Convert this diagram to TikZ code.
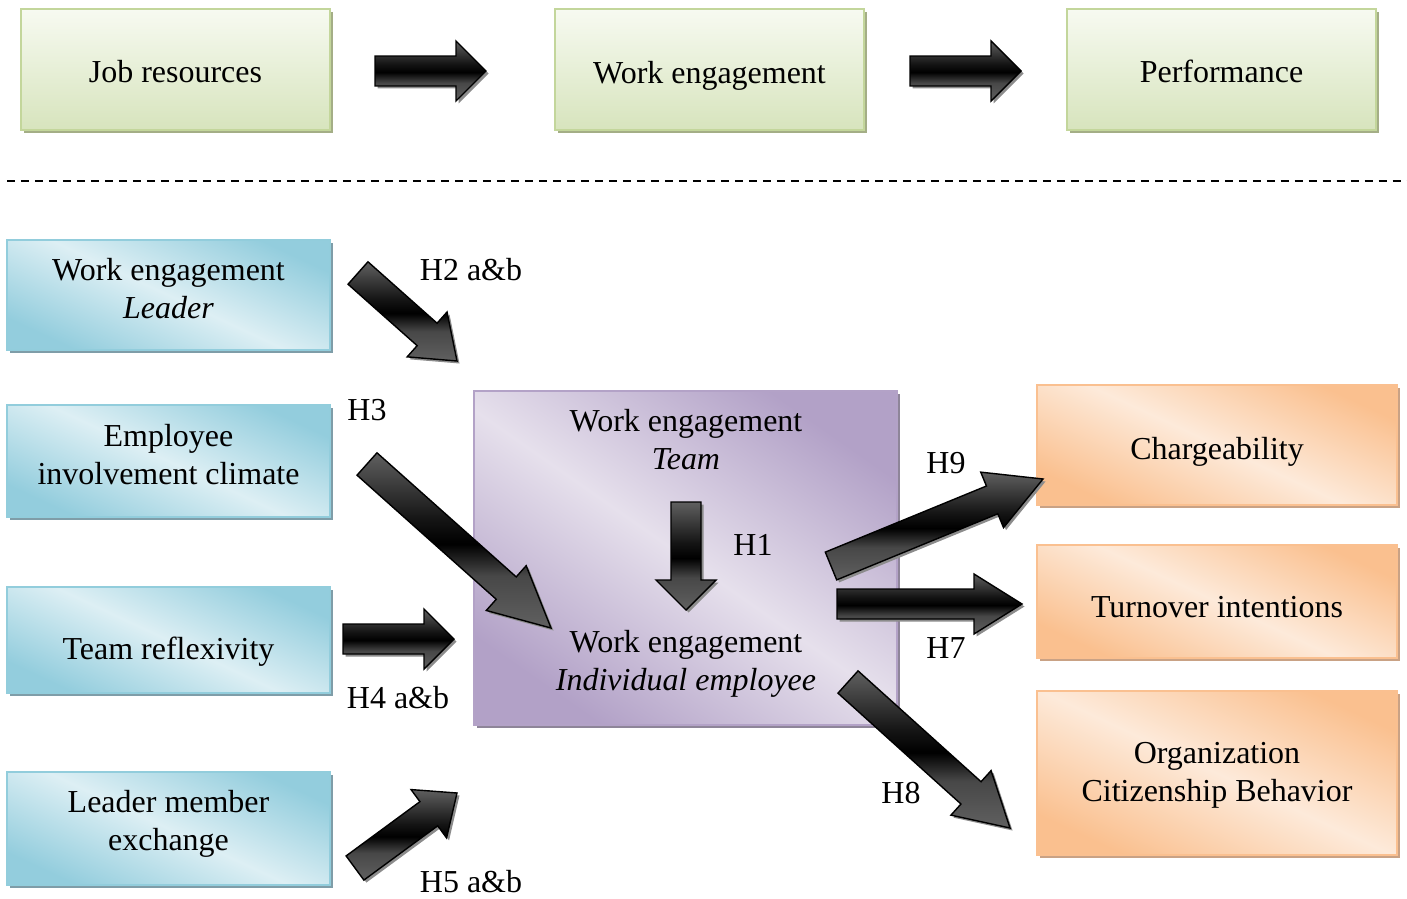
\documentclass[tikz,border=0pt]{standalone}
\usepackage{fontspec}
\setmainfont{Liberation Serif}
\usetikzlibrary{calc,shadows}

\definecolor{greenedge}{HTML}{C3D69B}
\definecolor{greentop}{HTML}{F7FAF1}
\definecolor{greenbot}{HTML}{D7E4BD}
\definecolor{greenshadow}{HTML}{A4AE86}
\definecolor{blueedge}{HTML}{92CDDC}
\definecolor{bluedark}{HTML}{93CDDD}
\definecolor{bluelight}{HTML}{DDEFF4}
\definecolor{blueshadow}{HTML}{7F9DA8}
\definecolor{purpleedge}{HTML}{B3A2C7}
\definecolor{purpledark}{HTML}{B2A1C7}
\definecolor{purplelight}{HTML}{E6E0EC}
\definecolor{purpleshadow}{HTML}{8E8599}
\definecolor{orangeedge}{HTML}{FAC090}
\definecolor{orangedark}{HTML}{FAC08F}
\definecolor{orangelight}{HTML}{FDEADA}
\definecolor{orangeshadow}{HTML}{C9A285}
\definecolor{arrowgray}{HTML}{606060}

% grey body with a dark band through the middle
\pgfdeclareverticalshading{arrowshade}{100bp}{color(0bp)=(arrowgray); color(25bp)=(arrowgray);
  color(40bp)=(black!72); color(49bp)=(black); color(56bp)=(black!92); color(75bp)=(arrowgray);
  color(100bp)=(arrowgray)}

\newcommand{\arrshaft}{0.3cm}
\newcommand{\arrhead}{0.6cm}
% block arrow from #1 to the tip #2, head length #3
\newcommand{\blockarrow}[3]{%
  \coordinate (hb) at ($(#2)!#3!(#1)$);
  \draw[bigarrow] ($(#1)!\arrshaft!90:(#2)$) -- ($(hb)!\arrshaft!90:(#2)$)
    -- ($(hb)!\arrhead!90:(#2)$) -- (#2) -- ($(hb)!\arrhead!-90:(#2)$)
    -- ($(hb)!\arrshaft!-90:(#2)$) -- ($(#1)!\arrshaft!-90:(#2)$) -- cycle;
}

\begin{document}
\begin{tikzpicture}[
    x=0.02cm, y=-0.02cm,
    boxfont/.style={font=\fontsize{18.2}{21.6}\selectfont},
    box/.style={rectangle, line width=0.85pt},
    greenbox/.style={box, draw=greenedge, top color=greentop, bottom color=greenbot,
        minimum width=6.18cm, minimum height=2.42cm,
        drop shadow={shadow xshift=0.06cm, shadow yshift=-0.06cm, fill=greenshadow, opacity=1}},
    bluebox/.style={box, draw=blueedge, top color=bluedark, bottom color=bluedark,
        middle color=bluelight, shading angle=-25, minimum width=6.46cm,
        drop shadow={shadow xshift=0.06cm, shadow yshift=-0.06cm, fill=blueshadow, opacity=1}},
    purplebox/.style={box, draw=purpleedge, top color=purpledark, bottom color=purpledark,
        middle color=purplelight, shading angle=-35,
        minimum width=8.46cm, minimum height=6.68cm,
        drop shadow={shadow xshift=0.06cm, shadow yshift=-0.06cm, fill=purpleshadow, opacity=1}},
    orangebox/.style={box, draw=orangeedge, top color=orangedark, bottom color=orangedark,
        middle color=orangelight, shading angle=-25, minimum width=7.2cm,
        drop shadow={shadow xshift=0.06cm, shadow yshift=-0.06cm, fill=orangeshadow, opacity=1}},
    intext/.style={boxfont, align=center, inner sep=0pt},
    hlabel/.style={boxfont, inner sep=0pt},
    bigarrow/.style={draw=black, line width=0.8pt, line join=miter, shade, shading=arrowshade,
        drop shadow={shadow xshift=0.05cm, shadow yshift=-0.05cm, fill=black!45, opacity=1}},
    sepline/.style={line width=1.1pt, dash pattern=on 0.16cm off 0.12cm}
  ]
  \useasboundingbox (0,0) rectangle (1407,899);

  % general model
  \node[greenbox] (jobres) at (175.5,69.5) {};
  \node[greenbox] (workeng) at (709.5,69.5) {};
  \node[greenbox] (perf) at (1221.5,69.5) {};
  \node[intext] (jobrestxt) at (175.5,71.5) {Job resources};
  \node[intext] (workengtxt) at (709.5,75.5) {Work engagement};
  \node[intext] (perftxt) at (1221.5,71.5) {Performance};

  \coordinate (top1s) at (375,71);
  \coordinate (top1t) at (486,71);
  \coordinate (top2s) at (910,71);
  \coordinate (top2t) at (1021,71);
  \blockarrow{top1s}{top1t}{0.6cm}
  \blockarrow{top2s}{top2t}{0.6cm}

  \coordinate (sepL) at (7,181);
  \coordinate (sepR) at (1407,181);
  \draw[sepline] (sepL) -- (sepR);

  % antecedents
  \node[bluebox, minimum height=2.2cm] (leader) at (168.5,295) {};
  \node[bluebox, minimum height=2.24cm] (climate) at (168.5,461) {};
  \node[bluebox, minimum height=2.12cm] (reflex) at (168.5,640) {};
  \node[bluebox, minimum height=2.26cm] (lmx) at (168.5,828.5) {};
  \node[intext] (leadertxt) at (168.5,289) {Work engagement\\\textit{Leader}};
  \node[intext] (climatetxt) at (168.5,454.5) {Employee\\involvement climate};
  \node[intext] (reflextxt) at (168.5,652) {Team reflexivity};
  \node[intext] (lmxtxt) at (168.5,823.5) {Leader member\\exchange};

  % team and individual engagement
  \node[purplebox] (engage) at (685.5,558) {};
  \node[intext] (weteam) at (686,440) {Work engagement\\\textit{Team}};
  \node[intext] (weind) at (686,664) {Work engagement\\\textit{Individual employee}};

  % outcomes
  \node[orangebox, minimum height=2.4cm] (charge) at (1217,445) {};
  \node[orangebox, minimum height=2.26cm] (turnover) at (1217,601.5) {};
  \node[orangebox, minimum height=3.28cm] (ocb) at (1217,773) {};
  \node[intext] (chargetxt) at (1217,452) {Chargeability};
  \node[intext] (turnovertxt) at (1217,607.5) {Turnover intentions};
  \node[intext] (ocbtxt) at (1217,775.5) {Organization\\Citizenship Behavior};

  % hypotheses
  \coordinate (h2s) at (358,273);
  \coordinate (h2t) at (457,361);
  \coordinate (h3s) at (367,464);
  \coordinate (h3t) at (551,628);
  \coordinate (h4s) at (343,639);
  \coordinate (h4t) at (454,639);
  \coordinate (h5s) at (355,868);
  \coordinate (h5t) at (457,793);
  \coordinate (h1s) at (686,502);
  \coordinate (h1t) at (686,610);
  \coordinate (h9s) at (831,566);
  \coordinate (h9t) at (1043,479);
  \coordinate (h7s) at (837,604);
  \coordinate (h7t) at (1022,604);
  \coordinate (h8s) at (848,682);
  \coordinate (h8t) at (1010,828);

  \blockarrow{h2s}{h2t}{0.8cm}
  \blockarrow{h3s}{h3t}{1.2cm}
  \blockarrow{h4s}{h4t}{0.6cm}
  \blockarrow{h5s}{h5t}{0.7cm}
  \blockarrow{h1s}{h1t}{0.6cm}
  \blockarrow{h9s}{h9t}{1.1cm}
  \blockarrow{h7s}{h7t}{0.96cm}
  \blockarrow{h8s}{h8t}{1.05cm}

  \node[hlabel] (lblh2) at (471,270) {H2 a\&b};
  \node[hlabel] (lblh3) at (367,410) {H3};
  \node[hlabel] (lblh4) at (398,698) {H4 a\&b};
  \node[hlabel] (lblh5) at (471,882) {H5 a\&b};
  \node[hlabel] (lblh1) at (753,545) {H1};
  \node[hlabel] (lblh9) at (946,463) {H9};
  \node[hlabel] (lblh7) at (946,648) {H7};
  \node[hlabel] (lblh8) at (901,793) {H8};
\end{tikzpicture}
\end{document}
